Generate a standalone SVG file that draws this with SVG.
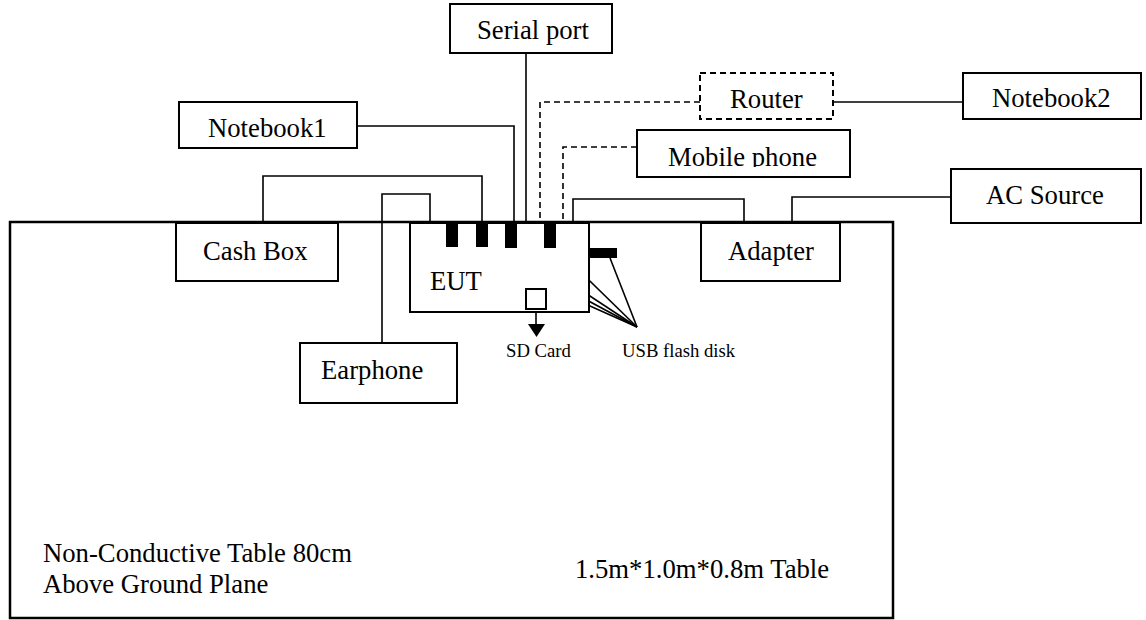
<svg xmlns="http://www.w3.org/2000/svg" width="1146" height="620" viewBox="0 0 1146 620">
<style>
.box{fill:#fff;stroke:#000;stroke-width:2}
.dbox{fill:#fff;stroke:#000;stroke-width:2;stroke-dasharray:6 4}
.w{fill:none;stroke:#000;stroke-width:1.6}
.d{fill:none;stroke:#000;stroke-width:1.6;stroke-dasharray:6 4}
.t{font-family:"Liberation Serif","Times New Roman",serif;font-size:26.7px;fill:#000}
.s{font-family:"Liberation Serif","Times New Roman",serif;font-size:18.7px;fill:#000}
.port{fill:#000}
</style>
<defs>
<clipPath id="mclip"><rect x="637" y="130" width="213" height="37"/></clipPath>
</defs>
<rect width="1146" height="620" fill="#fff"/>
<g id="table">
<rect x="10" y="222" width="883" height="396" fill="none" stroke="#000" stroke-width="2.5"/>
<text class="t" x="43" y="562">Non-Conductive Table 80cm</text>
<text class="t" x="43" y="593">Above Ground Plane</text>
<text class="t" x="575" y="578">1.5m*1.0m*0.8m Table</text>
</g>
<g id="connectors">
<polyline class="w" points="357,126 514,126 514,222"/>
<line class="w" x1="526" y1="53" x2="526" y2="222"/>
<polyline class="w" points="263,223 263,176 482,176 482,222"/>
<polyline class="w" points="382,343 382,194 430,194 430,222"/>
<polyline class="d" points="700,102 540,102 540,222"/>
<polyline class="d" points="637,147 563,147 563,222"/>
<line class="w" x1="833" y1="102" x2="963" y2="102"/>
<polyline class="w" points="573,222 573,199 744,199 744,222"/>
<polyline class="w" points="792,222 792,197 951,197"/>
<line class="w" x1="458" y1="247" x2="637" y2="327"/>
<line class="w" x1="488" y1="247" x2="637" y2="327"/>
<line class="w" x1="517" y1="248" x2="637" y2="327"/>
<line class="w" x1="556" y1="248" x2="637" y2="327"/>
<line class="w" x1="610" y1="258" x2="637" y2="327"/>
<line class="w" x1="536" y1="309" x2="536" y2="326"/>
<polygon points="528,324 545,324 536.5,337" fill="#000"/>
</g>
<g id="serial-port">
<rect class="box" x="450" y="4" width="162" height="49"/>
<text class="t" x="477" y="39">Serial port</text>
</g>
<g id="notebook1">
<rect class="box" x="179" y="102" width="178" height="46"/>
<text class="t" x="208" y="137">Notebook1</text>
</g>
<g id="router">
<rect class="dbox" x="700" y="73" width="133" height="46"/>
<text class="t" x="730" y="108">Router</text>
</g>
<g id="notebook2">
<rect class="box" x="963" y="73" width="178" height="46"/>
<text class="t" x="992" y="107">Notebook2</text>
</g>
<g id="mobile-phone">
<rect class="box" x="637" y="130" width="213" height="47"/>
<text class="t" x="668" y="166" clip-path="url(#mclip)">Mobile phone</text>
</g>
<g id="ac-source">
<rect class="box" x="951" y="169" width="190" height="54"/>
<text class="t" x="986" y="204">AC Source</text>
</g>
<g id="cash-box">
<rect class="box" x="176" y="223" width="162" height="58"/>
<text class="t" x="203" y="260">Cash Box</text>
</g>
<g id="adapter">
<rect class="box" x="701" y="223" width="139" height="58"/>
<text class="t" x="728" y="260">Adapter</text>
</g>
<g id="eut">
<rect class="box" x="410" y="223" width="179" height="89"/>
<rect class="port" x="446" y="223" width="12" height="24"/>
<rect class="port" x="476" y="223" width="12" height="24"/>
<rect class="port" x="505" y="223" width="12" height="25"/>
<rect class="port" x="544" y="223" width="12" height="25"/>
<rect class="port" x="589" y="248" width="28" height="10"/>
<rect class="box" x="526" y="289" width="20" height="20" stroke-width="1.6"/>
<text class="t" x="430" y="290">EUT</text>
</g>
<g id="earphone">
<rect class="box" x="300" y="343" width="157" height="60"/>
<text class="t" x="321" y="379">Earphone</text>
</g>
<g id="sd-card">
<text class="s" x="506" y="357">SD Card</text>
</g>
<g id="usb-flash-disk">
<text class="s" x="622" y="357">USB flash disk</text>
</g>
</svg>
